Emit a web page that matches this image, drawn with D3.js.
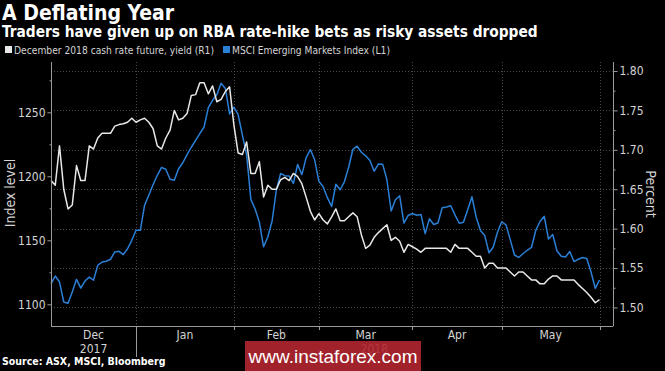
<!DOCTYPE html>
<html>
<head>
<meta charset="utf-8">
<script src="https://cdnjs.cloudflare.com/ajax/libs/d3/7.8.5/d3.min.js"></script>
<style>
  html, body { margin: 0; padding: 0; background: #000; }
  #container { width: 665px; height: 371px; overflow: hidden; }
  svg text { font-family: "DejaVu Sans Condensed", "DejaVu Sans", sans-serif; }
</style>
</head>
<body>
<div id="container"></div>
<script>
// Trading days (weekdays) covered by the chart
const firstDay = new Date(2017, 11, 4);
const lastDay = new Date(2018, 5, 1);

// MSCI Emerging Markets Index (left axis)
const msciIndex = [
  1116.1, 1122.1, 1117.4, 1101.8, 1100.8, 1109.6, 1119.5, 1112.7, 1118.2, 1121.3,
  1118.8, 1130.5, 1133.0, 1133.6, 1135.2, 1140.9, 1141.4, 1138.8, 1143.4, 1150.0,
  1157.8, 1157.8, 1177.3, 1185.2, 1193.4, 1200.8, 1207.0, 1205.5, 1197.7, 1196.9,
  1205.9, 1210.6, 1216.9, 1222.7, 1228.1, 1233.3, 1238.5, 1253.6, 1259.4, 1263.7,
  1272.7, 1268.6, 1248.7, 1254.0, 1248.4, 1232.3, 1217.0, 1182.0, 1174.5, 1164.1,
  1144.9, 1152.8, 1165.1, 1189.3, 1202.2, 1200.5, 1200.2, 1194.4, 1209.2, 1201.3,
  1214.5, 1220.9, 1212.9, 1196.1, 1191.8, 1183.3, 1176.4, 1193.8, 1189.5, 1195.7,
  1207.1, 1221.1, 1223.5, 1218.8, 1216.0, 1212.3, 1204.0, 1209.6, 1209.5, 1197.3,
  1172.9, 1181.7, 1184.8, 1163.5, 1169.4, 1170.9, 1169.6, 1170.2, 1155.2, 1166.8,
  1162.3, 1163.5, 1175.4, 1176.0, 1177.0, 1169.9, 1163.3, 1164.1, 1173.9, 1184.0,
  1168.0, 1157.7, 1153.8, 1140.3, 1144.6, 1156.3, 1164.5, 1162.1, 1150.5, 1138.5,
  1136.6, 1139.5, 1142.2, 1144.4, 1157.7, 1164.7, 1168.8, 1151.0, 1154.5, 1141.6,
  1137.6, 1137.0, 1141.3, 1133.4, 1135.2, 1136.6, 1135.8, 1125.2, 1112.5, 1119.0
];

// December 2018 cash rate future, yield in percent (right axis)
const cashRateYield = [
  1.661, 1.655, 1.705, 1.650, 1.625, 1.630, 1.680, 1.661, 1.661, 1.705,
  1.701, 1.715, 1.721, 1.721, 1.721, 1.730, 1.732, 1.733, 1.735, 1.740,
  1.735, 1.738, 1.740, 1.735, 1.727, 1.705, 1.701, 1.715, 1.725, 1.750,
  1.738, 1.740, 1.746, 1.769, 1.770, 1.785, 1.785, 1.771, 1.781, 1.761,
  1.764, 1.774, 1.780, 1.732, 1.696, 1.694, 1.710, 1.670, 1.670, 1.685,
  1.640, 1.655, 1.650, 1.650, 1.662, 1.665, 1.661, 1.670, 1.666, 1.657,
  1.640, 1.622, 1.611, 1.619, 1.611, 1.606, 1.615, 1.625, 1.610, 1.610,
  1.615, 1.620, 1.615, 1.592, 1.575, 1.579, 1.589, 1.595, 1.600, 1.605,
  1.585, 1.589, 1.584, 1.570, 1.580, 1.577, 1.574, 1.570, 1.575, 1.575,
  1.575, 1.575, 1.575, 1.575, 1.570, 1.580, 1.575, 1.575, 1.575, 1.570,
  1.565, 1.565, 1.550, 1.556, 1.556, 1.550, 1.550, 1.550, 1.545, 1.540,
  1.545, 1.545, 1.540, 1.535, 1.535, 1.530, 1.530, 1.536, 1.540, 1.540,
  1.535, 1.535, 1.535, 1.535, 1.529, 1.524, 1.519, 1.513, 1.506, 1.510
];

const indexTicks = [1100, 1150, 1200, 1250];
const indexMinorTicks = [1125, 1175, 1225, 1275];
const percentTicks = [1.50, 1.55, 1.60, 1.65, 1.70, 1.75, 1.80];
const percentMinorTicks = [1.525, 1.575, 1.625, 1.675, 1.725, 1.775];
const monthNames = ['Dec', 'Jan', 'Feb', 'Mar', 'Apr', 'May'];
const yearLabels = ['2017', '2018'];

class DeflatingChart {
  constructor(containerId) {
    this.container = document.getElementById(containerId);
    this.width = 665;
    this.height = 371;
    this.plot = { left: 51, right: 612.7, top: 62, bottom: 326 };

    this.svg = d3.select(this.container)
      .append('svg')
      .attr('width', this.width)
      .attr('height', this.height);

    this.svg.append('rect')
      .attr('width', this.width)
      .attr('height', this.height)
      .attr('fill', '#000');
  }

  render() {
    const p = this.plot;
    const svg = this.svg;

    const days = d3.timeDay.range(firstDay, d3.timeDay.offset(lastDay, 1))
      .filter(d => d.getDay() !== 0 && d.getDay() !== 6);

    // x runs on trading-day index, like the terminal chart
    const x = d3.scaleLinear().domain([0, 132.1]).range([p.left, p.right]);
    const yIndex = d3.scaleLinear().domain([1083.05, 1289.3]).range([p.bottom, p.top]);
    const yPct = d3.scaleLinear().domain([1.4765, 1.8114]).range([p.bottom, p.top]);

    // first trading day of each month
    const monthStarts = [];
    days.forEach((d, i) => {
      if (i === 0 || d.getMonth() !== days[i - 1].getMonth()) monthStarts.push(i);
    });
    const tickIdx = monthStarts.slice(1);

    // gridlines
    const grid = svg.append('g')
      .attr('stroke', '#4a4a4a')
      .attr('stroke-width', 1)
      .attr('stroke-dasharray', '1,2');
    grid.selectAll('.h')
      .data(percentTicks)
      .join('line')
      .attr('x1', p.left).attr('x2', p.right)
      .attr('y1', d => Math.round(yPct(d)) + 0.5)
      .attr('y2', d => Math.round(yPct(d)) + 0.5);
    grid.selectAll('.v')
      .data(tickIdx)
      .join('line')
      .attr('x1', d => Math.round(x(d)) + 0.5)
      .attr('x2', d => Math.round(x(d)) + 0.5)
      .attr('y1', p.top).attr('y2', p.bottom);

    // lines
    const indexLine = d3.line()
      .x((d, i) => x(i))
      .y(d => yIndex(d));
    const pctLine = d3.line()
      .x((d, i) => x(i))
      .y(d => yPct(d));

    svg.append('path')
      .datum(msciIndex)
      .attr('d', indexLine)
      .attr('fill', 'none')
      .attr('stroke', '#2a7fd6')
      .attr('stroke-width', 1.5)
      .attr('stroke-linejoin', 'round');

    svg.append('path')
      .datum(cashRateYield)
      .attr('d', pctLine)
      .attr('fill', 'none')
      .attr('stroke', '#e8e8e8')
      .attr('stroke-width', 1.5)
      .attr('stroke-linejoin', 'round');

    // frame
    const axisColor = '#9a9a9a';
    const frame = svg.append('g').attr('stroke', axisColor).attr('stroke-width', 1);
    frame.append('line')
      .attr('x1', p.left + 0.5).attr('x2', p.left + 0.5)
      .attr('y1', p.top).attr('y2', p.bottom);
    frame.append('line')
      .attr('x1', Math.round(p.right) + 0.5).attr('x2', Math.round(p.right) + 0.5)
      .attr('y1', p.top).attr('y2', p.bottom);
    frame.append('line')
      .attr('x1', p.left).attr('x2', p.right + 0.5)
      .attr('y1', p.bottom + 0.5).attr('y2', p.bottom + 0.5);

    // left axis
    const leftAxis = svg.append('g')
      .attr('transform', `translate(${p.left + 0.5},0)`)
      .call(d3.axisLeft(yIndex).tickValues(indexTicks).tickSize(4).tickPadding(2)
        .tickFormat(d3.format('d')));
    const leftMinor = svg.append('g')
      .attr('transform', `translate(${p.left + 0.5},0)`)
      .call(d3.axisLeft(yIndex).tickValues(indexMinorTicks).tickSize(2).tickFormat(''));

    // right axis
    const rightAxis = svg.append('g')
      .attr('transform', `translate(${Math.round(p.right) + 0.5},0)`)
      .call(d3.axisRight(yPct).tickValues(percentTicks).tickSize(4).tickPadding(2)
        .tickFormat(d3.format('.2f')));
    const rightMinor = svg.append('g')
      .attr('transform', `translate(${Math.round(p.right) + 0.5},0)`)
      .call(d3.axisRight(yPct).tickValues(percentMinorTicks).tickSize(2).tickFormat(''));

    [leftAxis, leftMinor, rightAxis, rightMinor].forEach(g => {
      g.select('.domain').remove();
      g.selectAll('line').attr('stroke', axisColor);
      g.selectAll('text')
        .attr('fill', '#d4d4d4')
        .style('font-size', '12px');
    });

    // bottom month ticks
    svg.append('g')
      .selectAll('line')
      .data(tickIdx)
      .join('line')
      .attr('x1', d => Math.round(x(d)) + 0.5)
      .attr('x2', d => Math.round(x(d)) + 0.5)
      .attr('y1', p.bottom)
      .attr('y2', d => d === monthStarts[1] ? 357 : p.bottom + 4)
      .attr('stroke', axisColor);

    const monthCenters = monthNames.map((m, k) => (x(monthStarts[k]) + x(monthStarts[k + 1])) / 2);
    svg.append('g')
      .selectAll('text')
      .data(monthNames)
      .join('text')
      .attr('x', (d, k) => monthCenters[k])
      .attr('y', 339)
      .attr('text-anchor', 'middle')
      .attr('fill', '#d4d4d4')
      .style('font-size', '12px')
      .text(d => d);

    const yearCenters = [monthCenters[0], (x(monthStarts[1]) + p.right) / 2];
    svg.append('g')
      .selectAll('text')
      .data(yearLabels)
      .join('text')
      .attr('x', (d, k) => yearCenters[k])
      .attr('y', 353)
      .attr('text-anchor', 'middle')
      .attr('fill', '#d4d4d4')
      .style('font-size', '12px')
      .text(d => d);

    // axis titles
    svg.append('text')
      .attr('transform', `translate(15,193) rotate(-90)`)
      .attr('text-anchor', 'middle')
      .attr('fill', '#d4d4d4')
      .style('font-size', '14px')
      .text('Index level');
    svg.append('text')
      .attr('transform', `translate(646,194) rotate(90)`)
      .attr('text-anchor', 'middle')
      .attr('fill', '#d4d4d4')
      .style('font-size', '14px')
      .text('Percent');

    // titles
    svg.append('text')
      .attr('x', 2).attr('y', 20)
      .attr('fill', '#fff')
      .style('font-size', '21px')
      .style('font-weight', 'bold')
      .text('A Deflating Year');
    svg.append('text')
      .attr('x', 2).attr('y', 37)
      .attr('fill', '#fff')
      .style('font-size', '15.3px')
      .style('font-weight', 'bold')
      .text('Traders have given up on RBA rate-hike bets as risky assets dropped');

    // legend
    const legend = [
      { label: 'December 2018 cash rate future, yield (R1)', color: '#e8e8e8', x: 5 },
      { label: 'MSCI Emerging Markets Index (L1)', color: '#2a7fd6', x: 223 }
    ];
    const lg = svg.append('g')
      .selectAll('g')
      .data(legend)
      .join('g')
      .attr('transform', d => `translate(${d.x},46)`);
    lg.append('rect')
      .attr('width', 7).attr('height', 7)
      .attr('fill', d => d.color);
    lg.append('text')
      .attr('x', 9).attr('y', 7.5)
      .attr('fill', '#d4d4d4')
      .style('font-size', '10.2px')
      .text(d => d.label);

    // source
    svg.append('text')
      .attr('x', 2).attr('y', 365)
      .attr('fill', '#fff')
      .style('font-size', '10.5px')
      .style('font-weight', 'bold')
      .text('Source: ASX, MSCI, Bloomberg');

    // watermark
    svg.append('rect')
      .attr('x', 245).attr('y', 341)
      .attr('width', 176).attr('height', 30)
      .attr('fill', '#b3262f')
      .attr('opacity', 0.9);
    svg.append('text')
      .attr('x', 333).attr('y', 363)
      .attr('text-anchor', 'middle')
      .attr('fill', '#fff')
      .style('font-family', '"Liberation Sans", Arial, sans-serif')
      .style('font-size', '19px')
      .text('www.instaforex.com');
  }
}

document.addEventListener('DOMContentLoaded', () => {
  const chart = new DeflatingChart('container');
  chart.render();
});
</script>
</body>
</html>
